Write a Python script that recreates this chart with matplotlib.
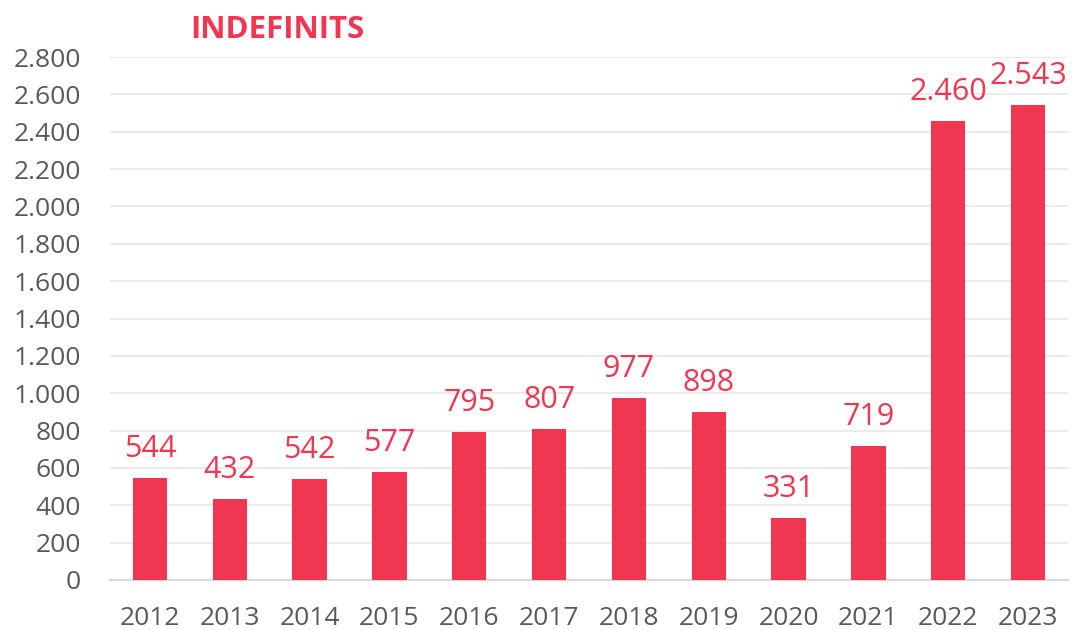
import matplotlib.pyplot as plt
from matplotlib.ticker import FuncFormatter

years = ['2012', '2013', '2014', '2015', '2016', '2017',
         '2018', '2019', '2020', '2021', '2022', '2023']
values = [544, 432, 542, 577, 795, 807, 977, 898, 331, 719, 2460, 2543]

red = '#F03651'
grey = '#595959'

plt.rcParams['font.family'] = ['Open Sans', 'DejaVu Sans']

fig = plt.figure(figsize=(10.72, 6.3), dpi=100)
ax = fig.add_axes([0.1026, 0.0794, 0.8937, 0.830])

x = range(len(years))
ax.bar(x, values, width=0.43, color=red, zorder=3)

# thousand separator with dot
fmt = lambda v, p: '{:,.0f}'.format(v).replace(',', '.')
for i, v in enumerate(values):
    ax.annotate(fmt(v, None), (i, v), xytext=(0, 10), textcoords='offset points',
                ha='center', va='bottom', fontsize=22, color=red)

ax.set_xlim(-0.5, len(years) - 0.5)
ax.set_ylim(0, 2800)
ax.set_yticks(range(0, 2801, 200))
ax.yaxis.set_major_formatter(FuncFormatter(fmt))
ax.set_xticks(list(x))
ax.set_xticklabels(years)
ax.tick_params(axis='both', length=0, labelsize=19, colors=grey)
ax.tick_params(axis='x', pad=19)
ax.tick_params(axis='y', pad=21)

ax.grid(axis='y', color='#EBEBEB', linewidth=1.5, zorder=0)
for s in ['top', 'right', 'left']:
    ax.spines[s].set_visible(False)
ax.spines['bottom'].set_color('#D9D9D9')
ax.spines['bottom'].set_linewidth(1.5)

fig.text(0.259, 0.952, 'INDEFINITS', ha='center', va='center',
         fontsize=22.5, fontweight='bold', color=red)

fig.savefig('out.png')
